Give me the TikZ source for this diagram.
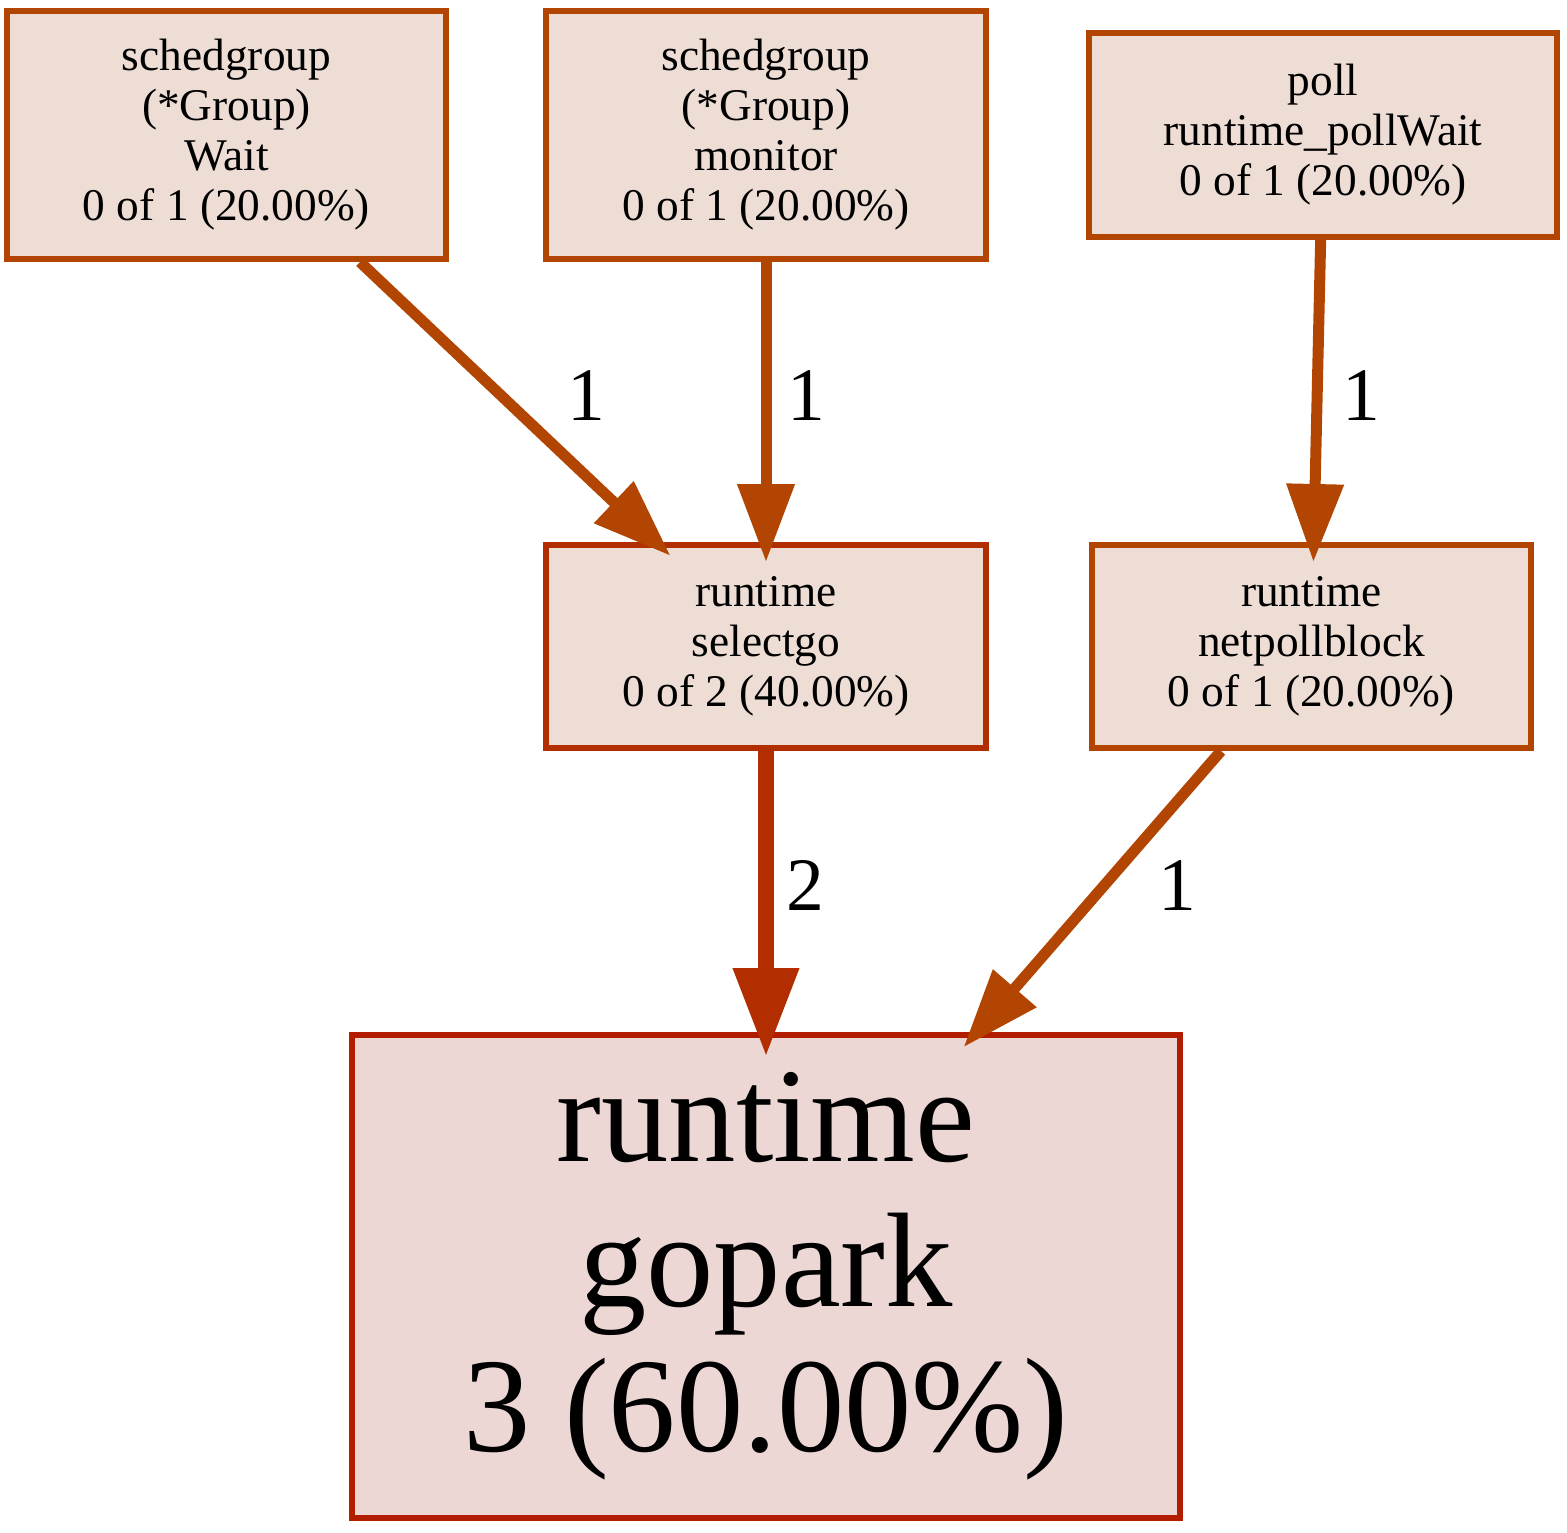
\documentclass[tikz,border=0pt]{standalone}
\usepackage{fontspec}
\setmainfont{Liberation Serif}
\usetikzlibrary{arrows.meta}
\definecolor{edgeone}{HTML}{B24502}
\definecolor{edgetwo}{HTML}{B22E00}
\definecolor{fillone}{HTML}{EDDDD5}
\definecolor{filltop}{HTML}{EDD7D5}
\definecolor{linetop}{HTML}{B21C00}
\tikzset{
  fn/.style={draw=edgeone,fill=fillone,line width=0.12cm,inner sep=0pt,align=center,
    font=\fontsize{25.8}{28.45}\selectfont},
  call/.style={draw=edgeone,line width=0.22cm,shorten >=-0.4cm,
    -{Triangle[length=1.56cm,width=1.1cm]}},
  elabel/.style={font=\fontsize{43}{46}\selectfont,inner sep=0pt,yshift=0.12cm}
}
\begin{document}
\begin{tikzpicture}
\useasboundingbox (0,0) rectangle (31.34,-30.66);
\node[fn,minimum width=8.78cm,minimum height=4.96cm] (wait) at (4.53,-2.70) {schedgroup\\(*Group)\\Wait\\0 of 1 (20.00\%)};
\node[fn,minimum width=8.80cm,minimum height=4.96cm] (monitor) at (15.32,-2.70) {schedgroup\\(*Group)\\monitor\\0 of 1 (20.00\%)};
\node[fn,minimum width=9.36cm,minimum height=4.08cm] (pollwait) at (26.46,-2.70) {poll\\runtime\_pollWait\\0 of 1 (20.00\%)};
\node[fn,draw=edgetwo,minimum width=8.80cm,minimum height=4.06cm] (selectgo) at (15.32,-12.93) {runtime\\selectgo\\0 of 2 (40.00\%)};
\node[fn,minimum width=8.78cm,minimum height=4.06cm] (netpoll) at (26.23,-12.93) {runtime\\netpollblock\\0 of 1 (20.00\%)};
\node[fn,draw=linetop,fill=filltop,minimum width=16.56cm,minimum height=9.66cm,
  font=\fontsize{76.6}{82.5}\selectfont] (gopark) at (15.32,-25.53) {runtime\\gopark\\3 (60.00\%)};
% calls
\draw[call] (wait) -- node[elabel,xshift=1.56cm] (lwait) {1} (selectgo);
\draw[call] (monitor) -- node[elabel,xshift=0.81cm] (lmonitor) {1} (selectgo);
\draw[call] (pollwait) -- node[elabel,xshift=0.89cm,yshift=-0.22cm] (lpoll) {1} (netpoll);
\draw[call,draw=edgetwo,line width=0.33cm,shorten >=-0.5cm,
  -{Triangle[length=1.78cm,width=1.24cm]}] (selectgo) -- node[elabel,xshift=0.78cm] (lselect) {2} (gopark);
\draw[call] (netpoll) -- node[elabel,xshift=1.56cm] (lnetpoll) {1} (gopark);
\end{tikzpicture}
\end{document}
